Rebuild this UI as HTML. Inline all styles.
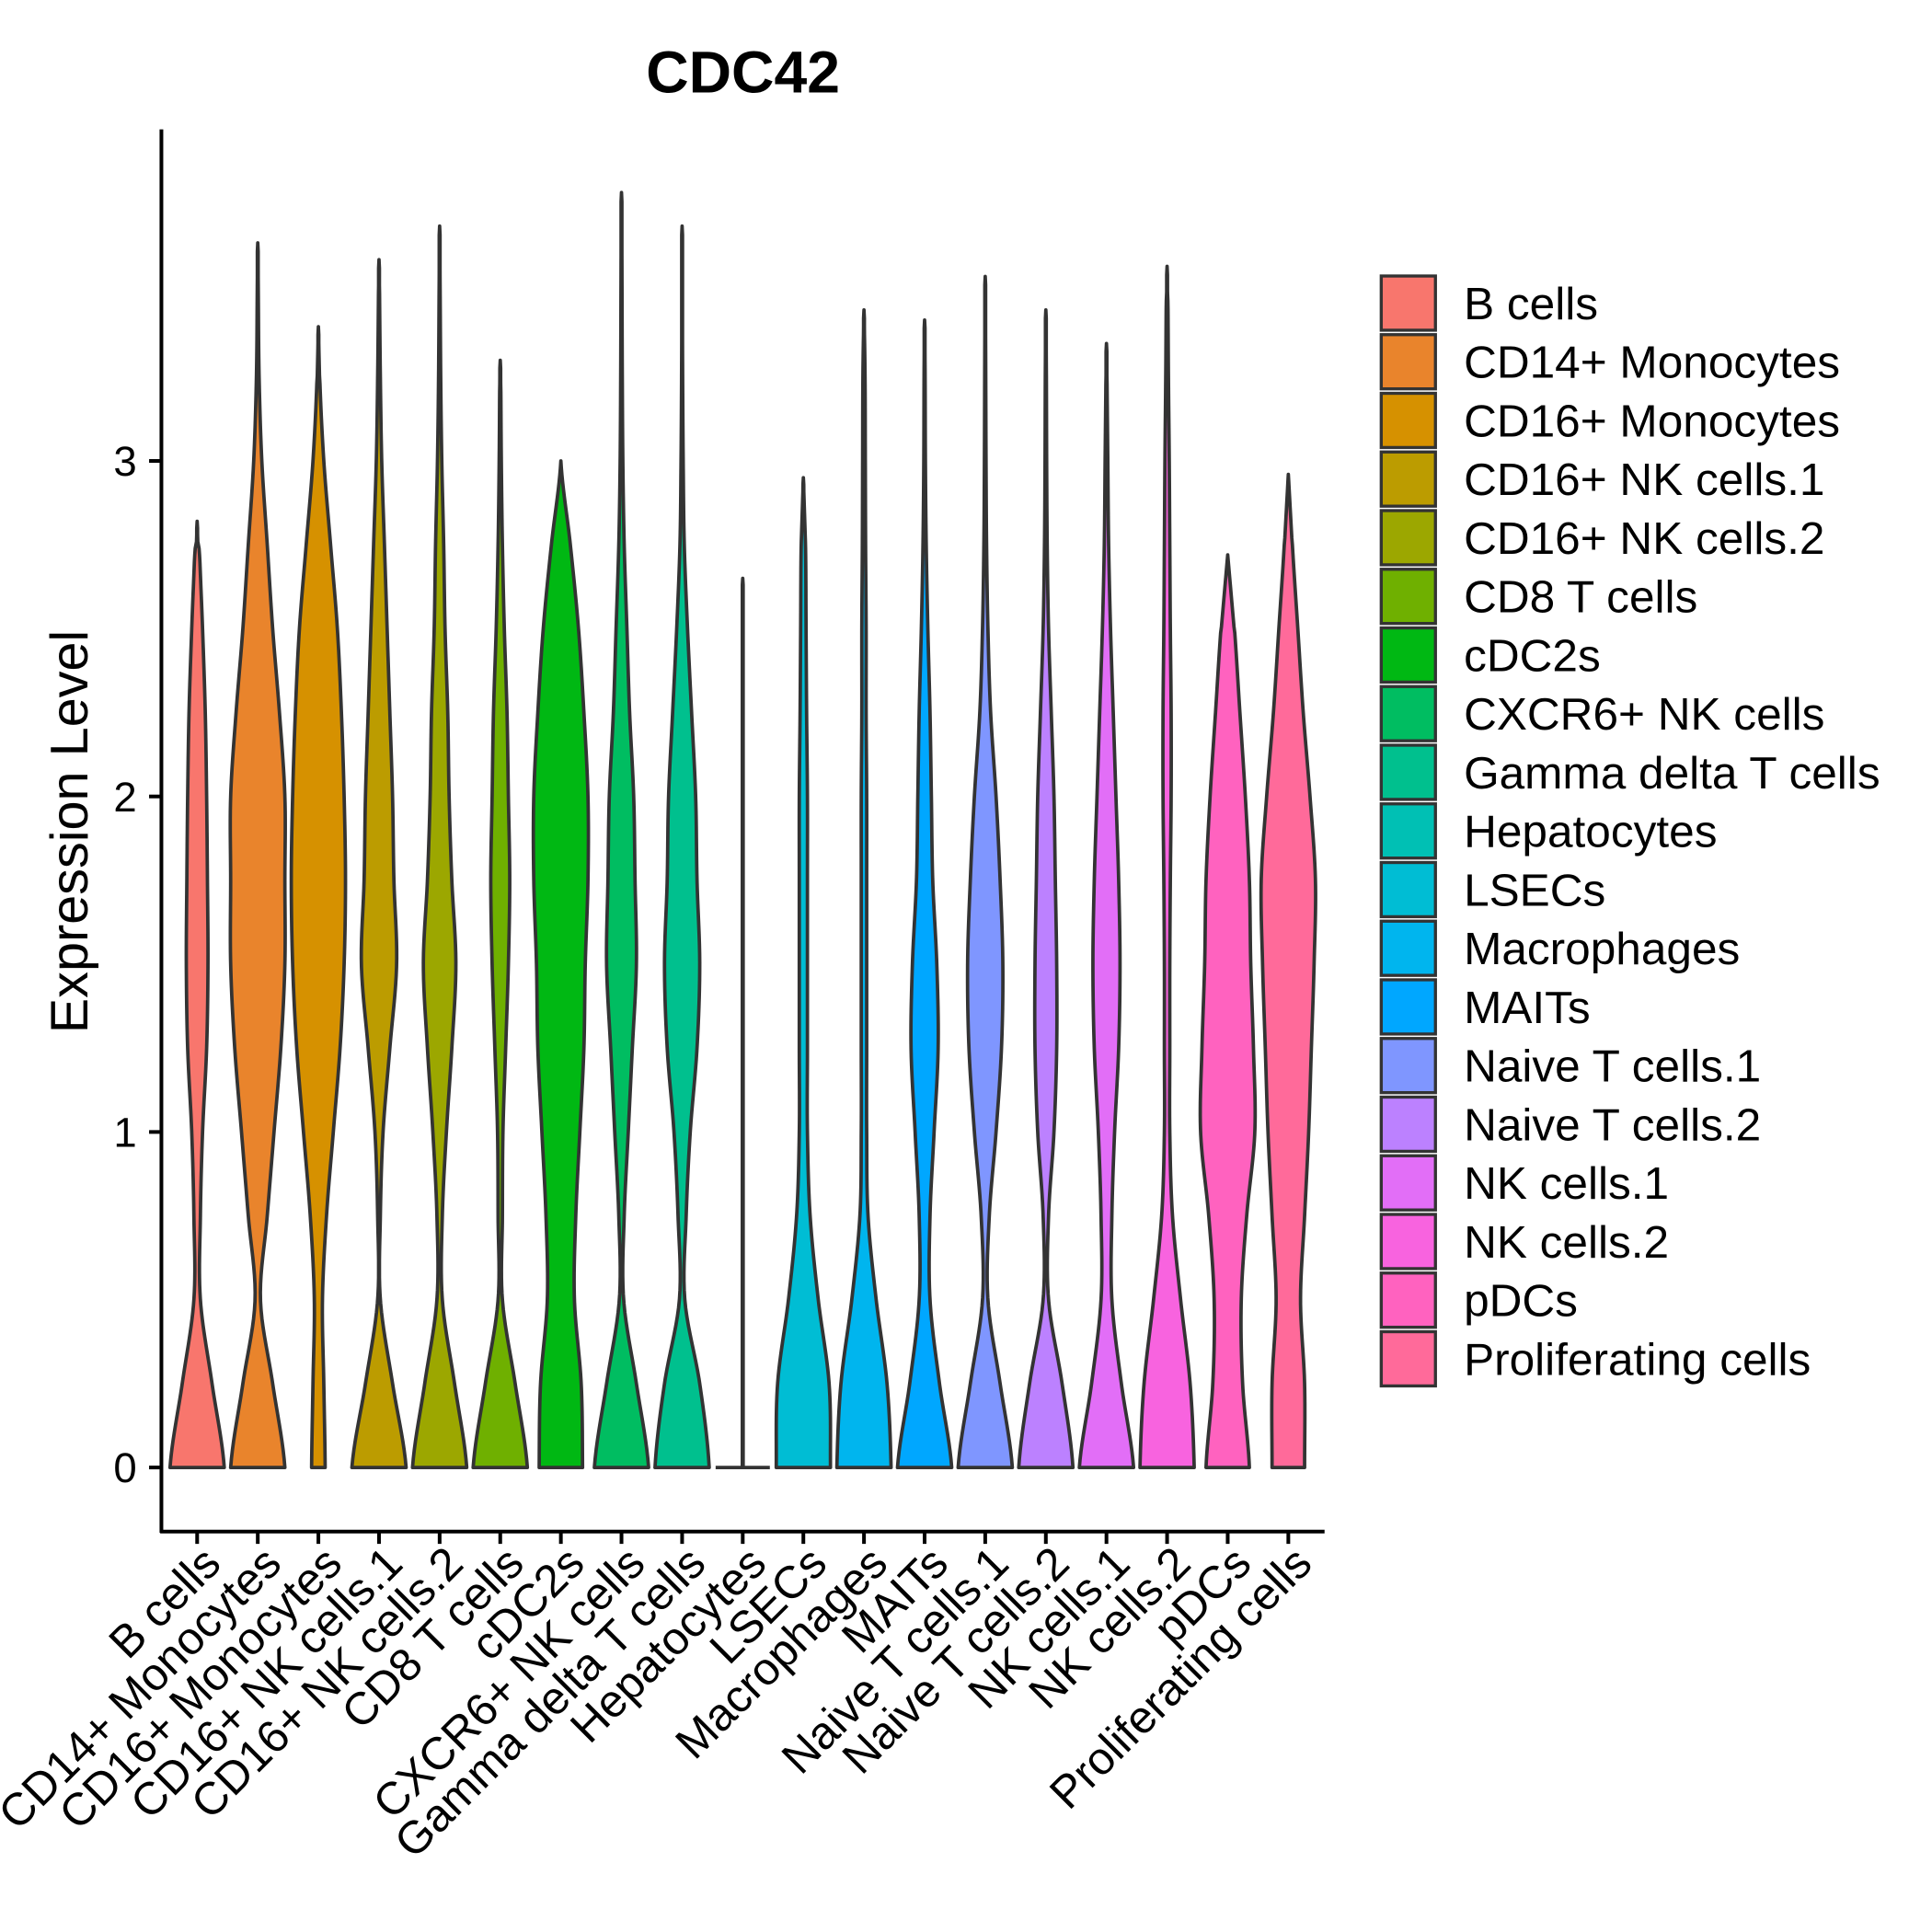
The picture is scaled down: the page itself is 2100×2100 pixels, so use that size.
<!DOCTYPE html>
<html><head><meta charset="utf-8"><style>
html,body{margin:0;padding:0;background:#fff;}
svg{display:block;font-family:"Liberation Sans",Arial,sans-serif;}
</style></head><body>
<svg id="chart" width="2100" height="2100" viewBox="0 0 1568 1568" xmlns="http://www.w3.org/2000/svg">
<text x="603" y="75" font-size="48" font-weight="bold" text-anchor="middle">CDC42</text>
<text transform="translate(71,675) rotate(-90)" font-size="43" text-anchor="middle">Expression Level</text>
<g id="violins"></g>
<line x1="131" y1="105" x2="131" y2="1244" stroke="#000" stroke-width="3"/>
<line x1="130" y1="1243" x2="1075" y2="1243" stroke="#000" stroke-width="3"/>
<g id="yticks"></g>
<g id="xticks"></g>
<g id="legend"></g>
</svg>
<script>
const categories=["B cells","CD14+ Monocytes","CD16+ Monocytes","CD16+ NK cells.1","CD16+ NK cells.2","CD8 T cells","cDC2s","CXCR6+ NK cells","Gamma delta T cells","Hepatocytes","LSECs","Macrophages","MAITs","Naive T cells.1","Naive T cells.2","NK cells.1","NK cells.2","pDCs","Proliferating cells"];
const colors=["#F8766D","#E9842C","#D69100","#BC9C00","#9CA700","#6FB000","#00B813","#00BD61","#00C08E","#00C0B4","#00BDD4","#00B5EE","#00A7FF","#7F96FF","#BC81FF","#E26EF7","#F863DF","#FF62BF","#FF6A9A"];
const maxValues=[2.82,3.65,3.4,3.6,3.7,3.3,3.0,3.8,3.7,2.65,2.95,3.45,3.42,3.55,3.45,3.35,3.58,2.72,2.96];
// relative half-widths at expression levels 0,0.25,0.5,...
const d0=[1,0.55,0.12,0.12,0.2,0.35,0.4,0.38,0.35,0.3,0.2,0.08];
const d1=[1,0.55,0.1,0.35,0.6,0.85,1,1,1,0.8,0.55,0.35,0.15,0.05,0.02];
const d2=[0.25,0.2,0.15,0.3,0.55,0.8,0.95,1,0.95,0.85,0.7,0.45,0.2,0.05];
const d3=[1,0.5,0.05,0.05,0.15,0.4,0.65,0.55,0.5,0.4,0.3,0.2,0.1,0.05,0.02];
const d4=[1,0.55,0.1,0.1,0.25,0.45,0.6,0.45,0.35,0.3,0.2,0.15,0.08,0.04,0.02];
const d5=[1,0.55,0.08,0.08,0.1,0.2,0.3,0.35,0.3,0.25,0.15,0.08,0.04,0.02];
const d6=[0.8,0.75,0.5,0.55,0.7,0.85,0.9,1,1,0.85,0.65,0.35,0.05];
const d7=[1,0.55,0.08,0.1,0.25,0.4,0.55,0.5,0.45,0.3,0.2,0.1,0.05,0.03,0.02,0.01];
const d8=[1,0.65,0.1,0.15,0.3,0.55,0.65,0.55,0.5,0.35,0.2,0.08,0.04,0.02,0.01];
const d9=[0.01,0.01,0.01,0.01,0.01,0.01,0.01,0.01,0.01,0.01,0.01];
const d10=[1,0.95,0.55,0.25,0.15,0.15,0.15,0.15,0.15,0.12,0.1,0.08,0.05];
const d11=[1,0.85,0.45,0.15,0.1,0.1,0.1,0.1,0.1,0.08,0.08,0.06,0.05,0.04,0.02];
const d12=[1,0.55,0.2,0.2,0.35,0.5,0.45,0.3,0.25,0.2,0.12,0.06,0.03,0.02];
const d13=[1,0.55,0.1,0.15,0.4,0.6,0.65,0.55,0.4,0.2,0.1,0.05,0.03,0.02,0.01];
const d14=[1,0.6,0.1,0.1,0.3,0.4,0.4,0.35,0.3,0.2,0.1,0.05,0.03,0.02];
const d15=[1,0.55,0.2,0.2,0.3,0.45,0.5,0.45,0.35,0.25,0.15,0.08,0.05,0.02];
const d16=[1,0.85,0.5,0.2,0.1,0.1,0.1,0.12,0.15,0.15,0.12,0.1,0.08,0.05,0.03];
const d17=[0.8,0.55,0.5,0.7,1,0.95,0.85,0.8,0.65,0.45,0.25,0.1];
const d18=[0.6,0.6,0.45,0.6,0.75,0.85,0.95,1,0.8,0.55,0.35,0.15];
const densities=[d0,d1,d2,d3,d4,d5,d6,d7,d8,d9,d10,d11,d12,d13,d14,d15,d16,d17,d18];
const yTicks=[0,1,2,3];
const levelStep=0.25;

const NS="http://www.w3.org/2000/svg";
const yScale=v=>1191-272.3*v;
const xScale=i=>160+i*49.2;
const halfMax=22;
function mk(tag,attrs,parent){const e=document.createElementNS(NS,tag);for(const k in attrs)e.setAttribute(k,attrs[k]);parent.appendChild(e);return e;}

function widthAt(d,top,v){
  const pts=d, n=pts.length;
  if(v>=top) return 0;
  const t=v/levelStep;
  let i=Math.floor(t);
  const f=t-i;
  const g=k=>{ if(k<0) return pts[0]; const lv=k*levelStep; if(lv>=top||k>=n) return 0; return pts[k];};
  const p0=g(i-1),p1=g(i),p2=g(i+1),p3=g(i+2);
  let w=0.5*((2*p1)+(-p0+p2)*f+(2*p0-5*p1+4*p2-p3)*f*f+(-p0+3*p1-3*p2+p3)*f*f*f);
  const nearTop=(top-v)/levelStep; if(nearTop<1) w=Math.min(w,pts[Math.min(i,n-1)]*nearTop+0.02*nearTop);
  return Math.max(0.015,Math.min(1.05,w));
}

const vg=document.getElementById('violins');
categories.forEach((c,i)=>{
  const d=densities[i],top=maxValues[i],cx=xScale(i);
  const slug=c.toLowerCase().replace(/[^a-z0-9]+/g,'-');
  const steps=140;const right=[],left=[];
  for(let s=0;s<=steps;s++){
    const v=top*s/steps;
    let w=widthAt(d,top,v)*halfMax;
    if(s===steps) w=0;
    right.push([cx+w,yScale(v)]);left.push([cx-w,yScale(v)]);
  }
  const pts=right.concat(left.reverse());
  const dstr="M"+pts.map(p=>p[0].toFixed(2)+","+p[1].toFixed(2)).join("L")+"Z";
  const p=mk('path',{d:dstr,fill:colors[i],stroke:'#333333','stroke-width':2.8,'stroke-linejoin':'round'},vg);
  
  
  if(d[0]<0.05){
    const ln=mk('line',{x1:cx-halfMax,x2:cx+halfMax,y1:yScale(0),y2:yScale(0),stroke:'#333333','stroke-width':2.8},vg);
    
    
  }
});

const yt=document.getElementById('yticks');
yTicks.forEach(t=>{
  const l=mk('line',{x1:121,x2:131,y1:yScale(t),y2:yScale(t),stroke:'#000','stroke-width':3},yt);
  
  
  const tx=mk('text',{x:111,y:yScale(t)+12,'font-size':34,'text-anchor':'end',fill:'#000'},yt);
  tx.textContent=t;
  
  
});

const xt=document.getElementById('xticks');
categories.forEach((c,i)=>{
  const x=xScale(i);
  const l=mk('line',{x1:x,x2:x,y1:1243,y2:1253,stroke:'#000','stroke-width':3},xt);
  
  
  const tx=mk('text',{transform:`translate(${x+21},${1271}) rotate(-45)`,'font-size':37,'text-anchor':'end',fill:'#000'},xt);
  tx.textContent=c;
  
  
});

const lg=document.getElementById('legend');
categories.forEach((c,i)=>{
  const y=224+i*47.6;
  const r=mk('rect',{x:1121,y:y,width:44,height:44,fill:colors[i],stroke:'#333333','stroke-width':2.5},lg);
  
  
  const tx=mk('text',{x:1188,y:y+35,'font-size':37,fill:'#000'},lg);
  tx.textContent=c;
  
  
});
</script>
</body></html>
